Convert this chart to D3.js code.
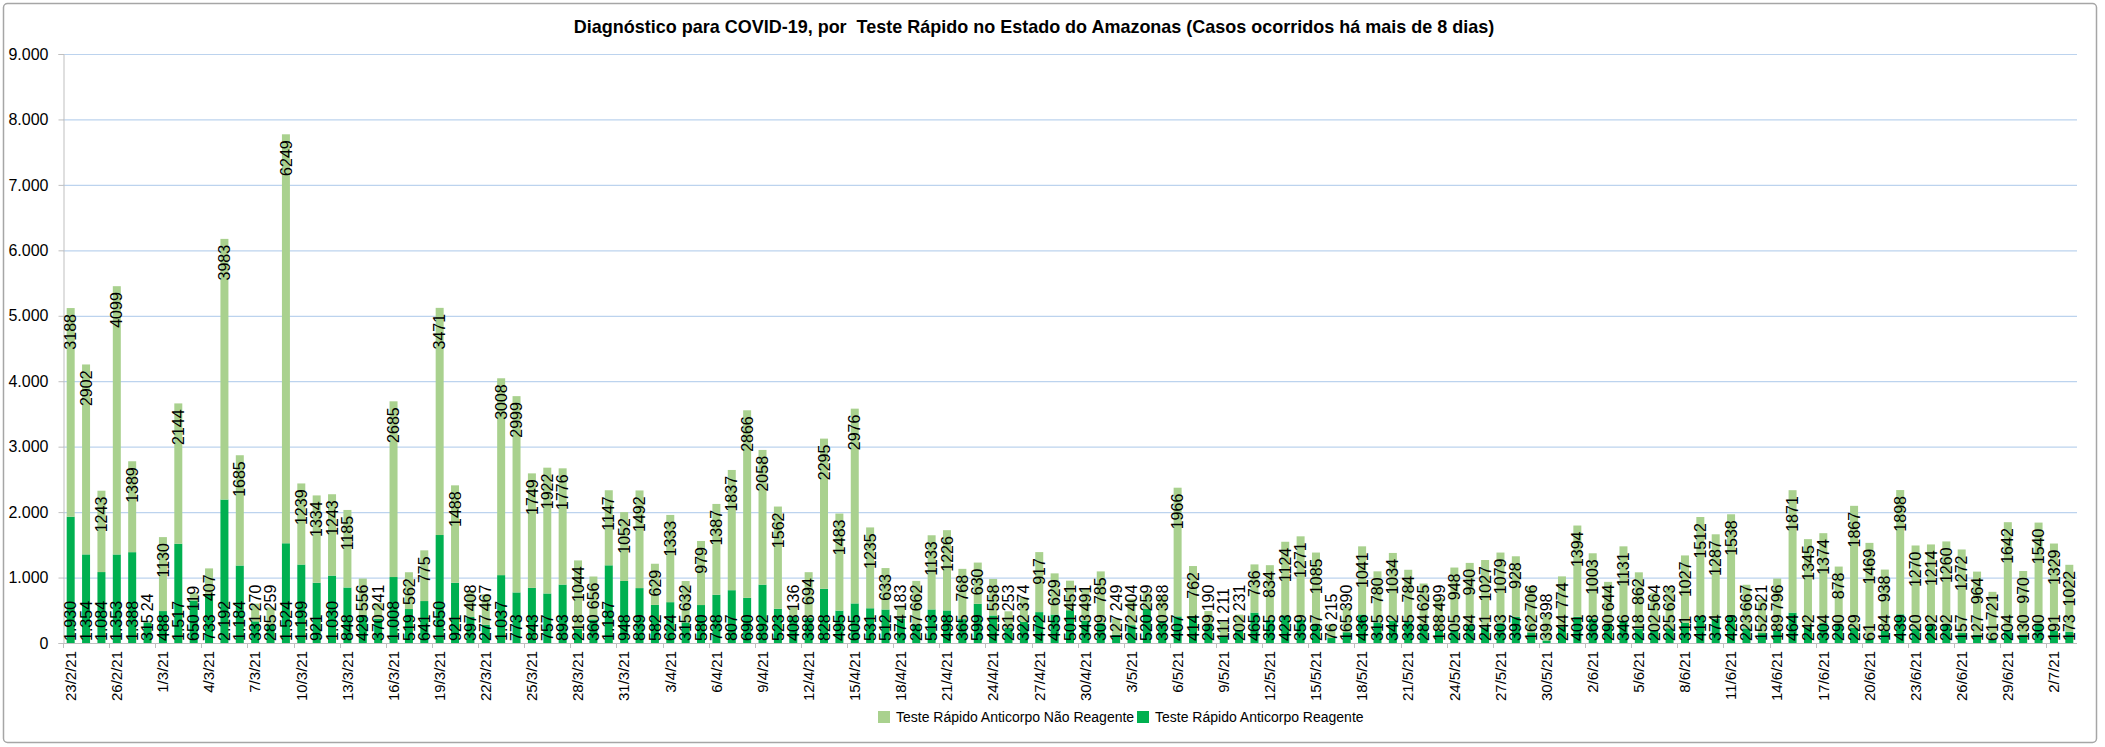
<!DOCTYPE html>
<html>
<head>
<meta charset="utf-8">
<script src="https://cdn.jsdelivr.net/npm/d3@7"></script>
<style>
  body { margin: 0; background: #fff; }
  text { font-family: "Liberation Sans", Arial, sans-serif; fill: #000; }
</style>
</head>
<body>
<script>
// categorias (dias)
const dias = [
  "23/2/21","24/2/21","25/2/21","26/2/21","27/2/21","28/2/21",
  "1/3/21","2/3/21","3/3/21","4/3/21","5/3/21","6/3/21","7/3/21","8/3/21","9/3/21","10/3/21",
  "11/3/21","12/3/21","13/3/21","14/3/21","15/3/21","16/3/21","17/3/21","18/3/21","19/3/21","20/3/21",
  "21/3/21","22/3/21","23/3/21","24/3/21","25/3/21","26/3/21","27/3/21","28/3/21","29/3/21","30/3/21","31/3/21",
  "1/4/21","2/4/21","3/4/21","4/4/21","5/4/21","6/4/21","7/4/21","8/4/21","9/4/21","10/4/21",
  "11/4/21","12/4/21","13/4/21","14/4/21","15/4/21","16/4/21","17/4/21","18/4/21","19/4/21","20/4/21",
  "21/4/21","22/4/21","23/4/21","24/4/21","25/4/21","26/4/21","27/4/21","28/4/21","29/4/21","30/4/21",
  "1/5/21","2/5/21","3/5/21","4/5/21","5/5/21","6/5/21","7/5/21","8/5/21","9/5/21","10/5/21",
  "11/5/21","12/5/21","13/5/21","14/5/21","15/5/21","16/5/21","17/5/21","18/5/21","19/5/21","20/5/21",
  "21/5/21","22/5/21","23/5/21","24/5/21","25/5/21","26/5/21","27/5/21","28/5/21","29/5/21","30/5/21","31/5/21",
  "1/6/21","2/6/21","3/6/21","4/6/21","5/6/21","6/6/21","7/6/21","8/6/21","9/6/21","10/6/21",
  "11/6/21","12/6/21","13/6/21","14/6/21","15/6/21","16/6/21","17/6/21","18/6/21","19/6/21","20/6/21",
  "21/6/21","22/6/21","23/6/21","24/6/21","25/6/21","26/6/21","27/6/21","28/6/21","29/6/21","30/6/21",
  "1/7/21","2/7/21","3/7/21"
];

// Teste Rápido Anticorpo Reagente
const reagente = [
  1930,1354,1084,1353,1388,315,
  488,1517,650,733,2192,1184,331,285,1524,1199,921,1030,848,429,370,1008,519,641,1650,921,397,277,1037,773,843,757,893,218,360,1187,948,
  839,582,624,315,580,738,807,690,892,523,408,388,828,495,605,531,512,374,287,513,498,365,599,421,231,322,472,435,501,343,
  309,127,272,520,330,407,414,299,111,202,465,355,423,359,297,76,165,436,315,342,335,284,188,205,284,241,303,397,162,39,244,
  401,368,290,346,218,202,225,311,413,374,429,223,152,189,464,242,304,290,229,61,184,439,220,292,292,157,127,61,204,130,
  300,191,173
];

// Teste Rápido Anticorpo Não Reagente
const naoReagente = [
  3188,2902,1243,4099,1389,24,
  1130,2144,119,407,3983,1685,270,259,6249,1239,1334,1243,1185,556,241,2685,562,775,3471,1488,408,467,3008,2999,1749,1922,1776,1044,656,1147,1052,
  1492,629,1333,632,979,1387,1837,2866,2058,1562,136,694,2295,1483,2976,1235,633,183,662,1133,1226,768,630,558,253,374,917,629,451,491,
  785,249,404,259,388,1966,762,190,211,231,736,834,1124,1271,1085,215,390,1041,780,1034,784,625,499,948,940,1027,1079,928,706,398,774,
  1394,1003,644,1131,862,564,623,1027,1512,1287,1538,667,521,796,1871,1345,1374,878,1867,1469,938,1898,1270,1214,1260,1272,964,721,1642,970,
  1540,1329,1022
];

const yTicks = [0,1000,2000,3000,4000,5000,6000,7000,8000,9000];
const titulo = "Diagnóstico para COVID-19, por  Teste Rápido no Estado do Amazonas (Casos ocorridos há mais de 8 dias)";
const nomeNao = "Teste Rápido Anticorpo Não Reagente";
const nomeReag = "Teste Rápido Anticorpo Reagente";

const corNao = "#a9d18e", corReag = "#00b050";

const W = 2105, H = 747;
const mLeft = 63, mRight = 2077, mTop = 54, mBottom = 643;

const br = d3.formatLocale({decimal: ",", thousands: ".", grouping: [3], currency: ["R$", ""]});
const fmtMil = br.format(",d");

const linhas = dias.map((d, i) => ({dia: d, reag: reagente[i], nao: naoReagente[i]}));

const svg = d3.select("body").append("svg")
    .attr("width", W)
    .attr("height", H);

// moldura
svg.append("rect")
    .attr("x", 3.5).attr("y", 3.5)
    .attr("width", 2093).attr("height", 739)
    .attr("rx", 4)
    .attr("fill", "#fff")
    .attr("stroke", "#a6a6a6")
    .attr("stroke-width", 1.5);

const x = d3.scaleBand()
    .domain(dias)
    .range([mLeft, mRight])
    .paddingInner(0.48)
    .paddingOuter(0.24);

const y = d3.scaleLinear()
    .domain([0, 9000])
    .range([mBottom, mTop]);

// grade
svg.append("g")
  .selectAll("line")
  .data(yTicks.filter(t => t > 0))
  .join("line")
    .attr("x1", mLeft).attr("x2", mRight)
    .attr("y1", d => y(d) + 0.5).attr("y2", d => y(d) + 0.5)
    .attr("stroke", "#bcd3ee")
    .attr("stroke-width", 1.2);

// eixo y
const gy = svg.append("g")
    .attr("transform", `translate(${mLeft + 0.5},0)`)
    .call(d3.axisLeft(y).tickValues(yTicks).tickFormat(fmtMil).tickSize(5).tickPadding(10));
gy.select(".domain").attr("stroke", "#bfbfbf");
gy.selectAll(".tick line").attr("stroke", "#bfbfbf");
gy.selectAll("text").attr("font-size", 16).attr("fill", "#000")
    .attr("font-family", "Liberation Sans, Arial, sans-serif");

// barras
const g = svg.append("g");
g.selectAll("rect.reag")
  .data(linhas)
  .join("rect")
    .attr("class", "reag")
    .attr("x", d => x(d.dia))
    .attr("width", x.bandwidth())
    .attr("y", d => y(d.reag))
    .attr("height", d => y(0) - y(d.reag))
    .attr("fill", corReag);

g.selectAll("rect.nao")
  .data(linhas)
  .join("rect")
    .attr("class", "nao")
    .attr("x", d => x(d.dia))
    .attr("width", x.bandwidth())
    .attr("y", d => y(d.reag + d.nao))
    .attr("height", d => y(d.reag) - y(d.reag + d.nao))
    .attr("fill", corNao);

// eixo x
svg.append("line")
    .attr("x1", mLeft).attr("x2", mRight)
    .attr("y1", mBottom + 0.5).attr("y2", mBottom + 0.5)
    .attr("stroke", "#bfbfbf");

const marcados = dias.filter((d, i) => i % 3 === 0);
const step = x.step();

svg.append("g")
  .selectAll("line")
  .data(marcados)
  .join("line")
    .attr("x1", d => Math.round(x(d) - step * x.paddingInner() / 2) + 0.5)
    .attr("x2", d => Math.round(x(d) - step * x.paddingInner() / 2) + 0.5)
    .attr("y1", mBottom).attr("y2", mBottom + 5)
    .attr("stroke", "#bfbfbf");

svg.append("g")
  .selectAll("text")
  .data(marcados)
  .join("text")
    .attr("transform", d => `translate(${x(d) + x.bandwidth() / 2},${mBottom + 8}) rotate(-90)`)
    .attr("dy", "0.35em")
    .attr("text-anchor", "end")
    .attr("font-size", 15)
    .text(d => d);

// rótulos de dados
const fs = 16;
const rotReag = svg.append("g")
  .selectAll("text")
  .data(linhas)
  .join("text")
    .attr("font-size", fs)
    .attr("dy", "0.35em")
    .attr("text-anchor", "start")
    .attr("transform", d => `translate(${x(d.dia) + x.bandwidth() / 2},${mBottom - 2}) rotate(-90)`)
    .text(d => fmtMil(d.reag));

const compReag = [];
rotReag.each(function(d, i) { compReag[i] = this.getComputedTextLength(); });

svg.append("g")
  .selectAll("text")
  .data(linhas)
  .join("text")
    .attr("font-size", fs)
    .attr("dy", "0.35em")
    .attr("text-anchor", "start")
    .text(d => d.nao)
    .attr("transform", function(d, i) {
      const len = this.getComputedTextLength();
      let base = y(d.reag + d.nao) + 6 + len;
      const limite = mBottom - 2 - compReag[i] - 3;
      if (base > limite) base = limite;
      return `translate(${x(d.dia) + x.bandwidth() / 2},${base}) rotate(-90)`;
    });

// título
const t = svg.append("text")
    .attr("x", 1034)
    .attr("y", 33)
    .attr("text-anchor", "middle")
    .attr("font-weight", "bold")
    .attr("font-size", 17)
    .style("white-space", "pre")
    .text(titulo);
const tl = t.node().getComputedTextLength();
t.attr("font-size", 17 * 921 / tl);

// legenda
const leg = svg.append("g");
[[878, corNao, nomeNao], [1137, corReag, nomeReag]].forEach(([lx, c, nome]) => {
  leg.append("rect").attr("x", lx).attr("y", 711).attr("width", 12).attr("height", 12).attr("fill", c);
  leg.append("text").attr("x", lx + 18).attr("y", 717).attr("dy", "0.35em")
      .attr("font-size", 14).text(nome);
});
</script>
</body>
</html>
